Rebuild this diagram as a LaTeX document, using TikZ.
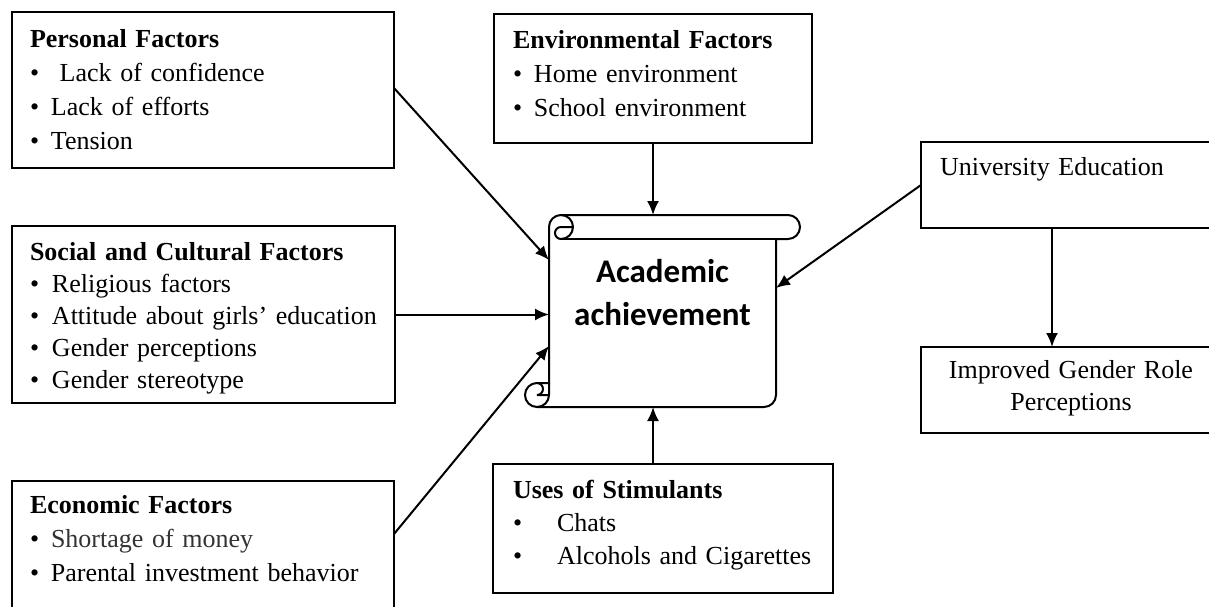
\documentclass[tikz,border=0pt]{standalone}
\usepackage{fontspec}
\setmainfont{Liberation Serif}
\newfontfamily\scrollfont{Carlito}
\usetikzlibrary{arrows.meta}
\tikzset{>={Latex[length=14pt,width=12pt]}}
\tikzset{
  factor/.style={draw, line width=2.2pt, inner ysep=0pt, outer sep=0pt,
    align=left, anchor=north west, font=\fontsize{26}{34}\selectfont},
  link/.style={->, line width=2pt},
}
\newcommand\bitem[2][21pt]{\mbox{\makebox[#1][l]{\textbullet}#2}}

\begin{document}
\begin{tikzpicture}[x=1pt, y=1pt]
  \useasboundingbox (0,0) rectangle (1209,-606);
  \clip (0,0) rectangle (1209,-606);
  % factor boxes
  \node[factor, inner xsep=18pt, text width=346pt, text height=35pt, text depth=121pt] (pers) at (12,-12)
    {\textbf{Personal Factors}\\ \bitem{\ Lack of confidence}\\ \bitem{Lack of efforts}\\ \bitem{Tension}};
  \node[factor, inner xsep=19pt, text width=280pt, text height=34pt, text depth=95pt] (env) at (494,-14)
    {\textbf{Environmental Factors}\\ \bitem{Home environment}\\ \bitem{School environment}};
  \node[factor, inner xsep=18pt, text width=347pt, text height=34pt, text depth=143pt,
    font=\fontsize{26}{32}\selectfont] (soc) at (12,-226)
    {\textbf{Social and Cultural Factors}\\ \bitem[22pt]{Religious factors}\\ \bitem[22pt]{Attitude about girls’ education}\\
     \bitem[22pt]{Gender perceptions}\\ \bitem[22pt]{Gender stereotype}};
  \node[factor, inner xsep=18pt, text width=346pt, text height=32pt, text depth=168pt] (econ) at (12,-481)
    {\textbf{Economic Factors}\\ \bitem{\textcolor{black!80}{Shortage of money}}\\ \bitem{Parental investment behavior}};
  \node[factor, inner xsep=20pt, text width=300pt, text height=34pt, text depth=95pt,
    font=\fontsize{26}{33}\selectfont] (uses) at (493,-464)
    {\textbf{Uses of Stimulants}\\ \bitem[44pt]{Chats}\\ \bitem[44pt]{Alcohols and Cigarettes}};
  \node[factor, inner xsep=19pt, text width=262pt, text height=33pt, text depth=53pt] (univ) at (921,-142)
    {University Education};
  \node[factor, align=center, inner xsep=19pt, text width=262pt, text height=31pt, text depth=55pt,
    font=\fontsize{26}{32}\selectfont] (impr) at (921,-347)
    {Improved Gender Role\\ Perceptions};
  % scroll
  \node[text width=227pt, inner sep=0pt, outer sep=0pt, align=center, text height=67pt, text depth=125pt,
    font=\scrollfont\bfseries\fontsize{33}{43}\selectfont, anchor=north west] (ach) at (549,-215)
    {Academic\\ achievement};
  \begin{scope}[line width=2pt]
    \draw (549,-383) -- (549,-227) arc (180:90:12) -- (788,-215) arc (90:-90:12) -- (776,-239)
      -- (776,-395) arc (0:-90:12) -- (537,-407) arc (270:90:12) -- cycle;
    \draw (561,-215) arc (90:-90:12) arc (270:90:6) -- (573,-227);
    \draw (776,-239) -- (561,-239);
    \draw (537,-383) arc (90:-90:6) -- (549,-395);
    \draw (537,-407) arc (270:360:12) -- (549,-383);
  \end{scope}
  % arrows
  \draw[link] ([yshift=-76pt]pers.north east) -- ([yshift=-45pt]ach.north west);
  \draw[link] (env.south) -- (env.south |- ach.north);
  \draw[link] (soc.east) -- (soc.east -| ach.west);
  \draw[link] ([yshift=-53pt]econ.north east) -- ([yshift=-131pt]ach.north west);
  \draw[link] ([xshift=160pt]uses.north west) -- ([xshift=160pt]uses.north west |- ach.south);
  \draw[link] (univ.west) -- ([yshift=-73pt]ach.north east);
  \draw[link] ([xshift=131pt]univ.south west) -- ([xshift=131pt]impr.north west);
\end{tikzpicture}
\end{document}
